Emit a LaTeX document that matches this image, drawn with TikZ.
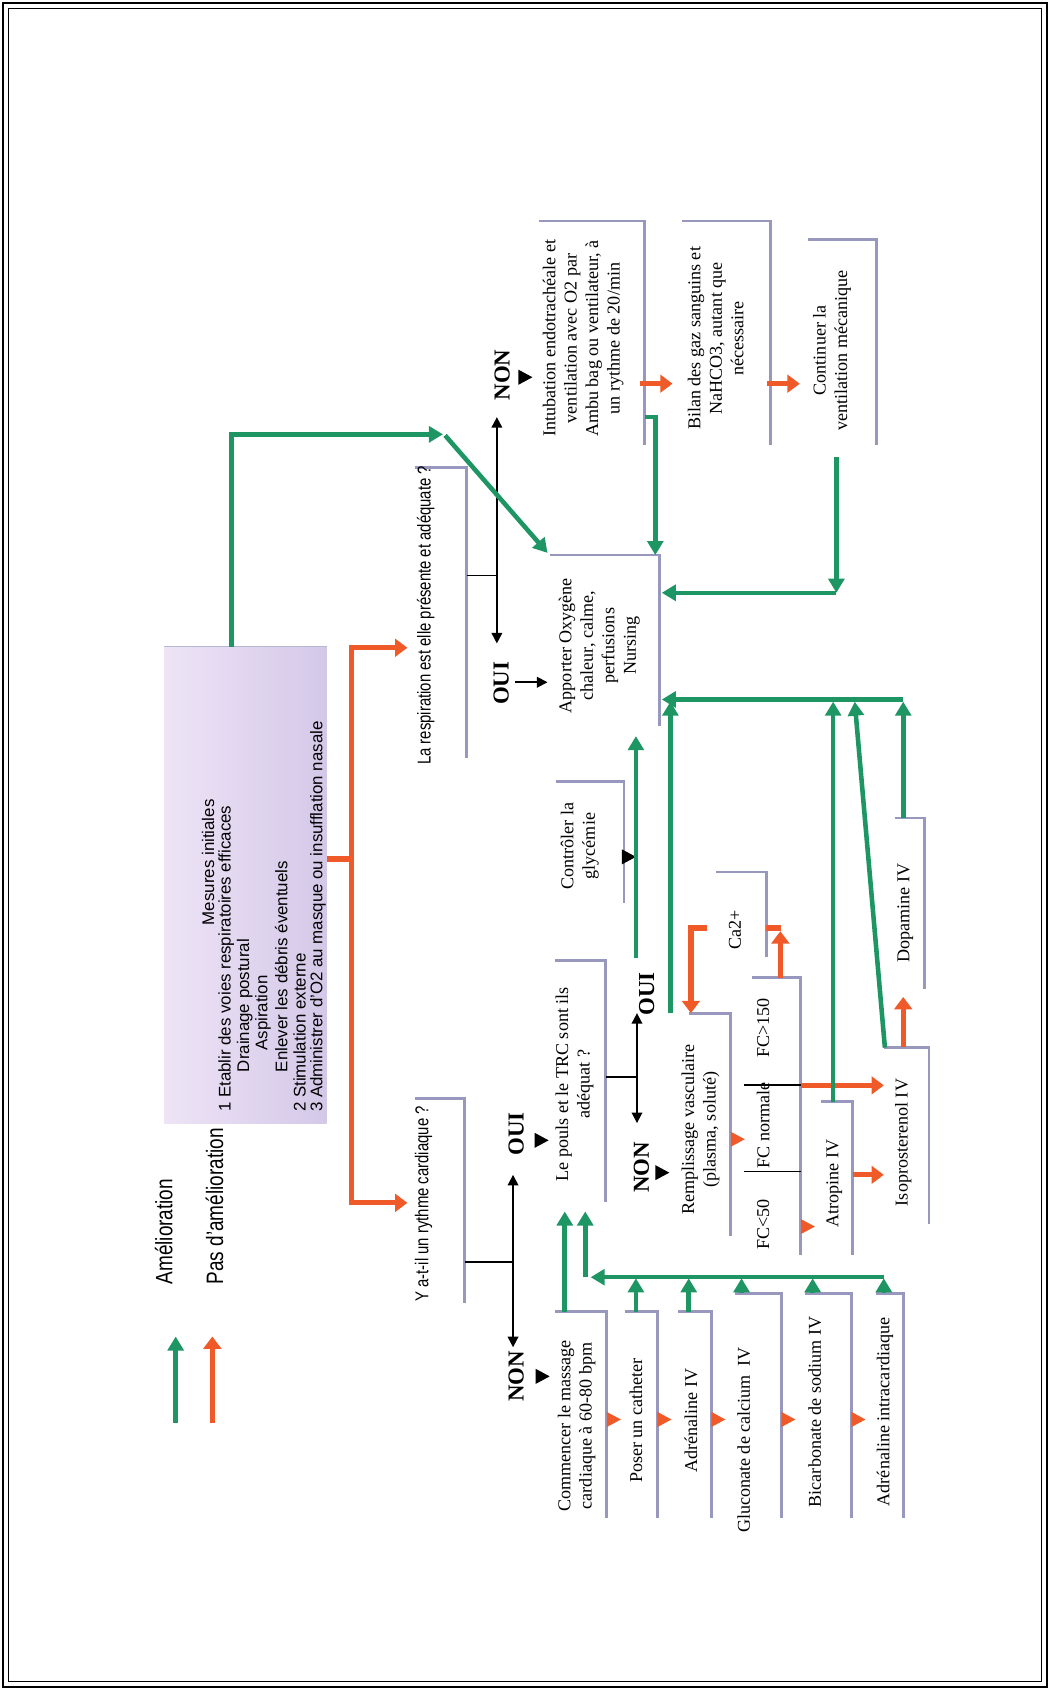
\documentclass[tikz,border=0pt]{standalone}
\usepackage{fontspec}
\setmainfont{Liberation Serif}
\newfontfamily\condfont[FakeStretch=0.8]{Liberation Sans}
\newfontfamily\boxfont{Liberation Sans}
\usetikzlibrary{arrows.meta}
\definecolor{brk}{RGB}{152,152,190}
\definecolor{vert}{RGB}{30,150,100}
\definecolor{orng}{RGB}{240,90,40}
\definecolor{lav1}{RGB}{238,228,246}
\definecolor{lav2}{RGB}{212,200,232}
\begin{document}
\begin{tikzpicture}[x=0.02156cm,y=-0.02156cm]
  \tikzset{
    box/.style={draw=brk,line width=1.6pt},
    txt/.style={rotate=90,inner sep=0pt,align=center,font=\fontsize{10.3}{12.2}\selectfont},
    ask/.style={rotate=90,inner sep=0pt,anchor=west,font=\condfont\fontsize{10.6}{11}\selectfont},
    measure/.style={ask,font=\boxfont\fontsize{9.6}{10}\selectfont},
    yesno/.style={rotate=90,inner sep=0pt,font=\bfseries\fontsize{13}{13}\selectfont},
    good/.style={draw=vert,line width=2.6pt,-{Triangle[length=8pt,width=9pt]}},
    bad/.style={draw=orng,line width=3pt,-{Triangle[length=7pt,width=10pt]}},
    choice/.style={draw=black,line width=1pt,-{Triangle[length=6pt,width=6pt]}}
  }
  \useasboundingbox (0,0) rectangle (974,1568);
  % frame
  \draw[line width=1.2pt] (3,3) rectangle (971,1565);
  \draw[line width=0.5pt] (8,8) rectangle (966,1560);

  % legend
  \draw[good] (163,1320) -- (163,1240);
  \draw[bad] (197,1320) -- (197,1240);
  \node[ask,font=\condfont\fontsize{13.5}{14}\selectfont] (leg1) at (152,1192) {Amélioration};
  \node[ask,font=\condfont\fontsize{13.5}{14}\selectfont] (leg2) at (199,1192) {Pas d’amélioration};

  % initial measures
  \shade[left color=lav1,right color=lav2] (152,600) rectangle (303,1042);
  \draw[brk!70,line width=0.8pt] (152,600) -- (303,600);
  \node[measure,anchor=center] (mes0) at (193,800) {Mesures initiales};
  \node[measure] (mes1) at (210,1032) {1 Etablir des voies respiratoires efficaces};
  \node[measure] (mes2) at (227,995) {Drainage postural};
  \node[measure] (mes3) at (244,975) {Aspiration};
  \node[measure] (mes4) at (261,995) {Enlever les débris éventuels};
  \node[measure] (mes5) at (278,1032) {2 Stimulation externe};
  \node[measure] (mes6) at (295,1032) {3 Administrer d’O2 au masque ou insufflation nasale};

  % brackets
  \foreach \xa/\ya/\xb/\yb in {385/434/433/703, 385/1019/431/1209, 500/205/598/413,
      633/205/715/413, 750/222/813/413, 510/515/612/674, 516/725/579/838,
      515/891/562/1115, 639/940/678/1147, 664/809/711/888, 698/907/743/1164,
      762/1022/791/1164, 820/972/862/1136, 830/759/858/918, 515/1217/563/1408,
      580/1217/610/1408, 629/1217/660/1408, 682/1200/725/1408, 747/1200/790/1408,
      813/1200/838/1408}
    \draw[box] (\xa,\ya) -- (\xb,\ya) -- (\xb,\yb);

  % questions
  \node[ask] (resp) at (395,710) {La respiration est elle présente et adéquate ?};
  \node[ask] (ryth) at (393,1208) {Y a-t-il un rythme cardiaque ?};

  % actions
  \node[txt] (intub) at (541,314) {Intubation endotrachéale et\\ventilation avec O2 par\\Ambu bag ou ventilateur, à\\un rythme de 20/min};
  \node[txt] (bilan) at (664,314) {Bilan des gaz sanguins et\\NaHCO3, autant que\\nécessaire};
  \node[txt] (cont) at (772,325) {Continuer la\\ventilation mécanique};
  \node[txt] (appo) at (556,599) {Apporter Oxygène\\chaleur, calme,\\perfusions\\Nursing};
  \node[txt] (ctrl) at (538,785) {Contrôler la\\glycémie};
  \node[txt] (pouls) at (533,1006) {Le pouls et le TRC sont ils\\adéquat ?};
  \node[txt] (rempl) at (650,1048) {Remplissage vasculaire\\(plasma, soluté)};
  \node[txt] (ca) at (682,863) {Ca2+};
  \node[txt] (fc150) at (708,954) {FC>150};
  \node[txt] (fcnorm) at (708,1044) {FC normale};
  \node[txt] (fc50) at (708,1136) {FC<50};
  \node[txt] (atro) at (774,1098) {Atropine IV};
  \node[txt] (iso) at (838,1060) {Isoprosterenol IV};
  \node[txt] (dopa) at (840,847) {Dopamine IV};
  \node[txt] (comm) at (535,1323) {Commencer le massage\\cardiaque à 60-80 bpm};
  \node[txt] (poser) at (590,1318) {Poser un catheter};
  \node[txt] (adre) at (641,1318) {Adrénaline IV};
  \node[txt] (gluc) at (690,1336) {Gluconate de calcium~~IV};
  \node[txt] (bica) at (756,1310) {Bicarbonate de sodium IV};
  \node[txt] (intra) at (821,1310) {Adrénaline intracardiaque};

  % oui / non
  \node[yesno] (non1) at (466,348) {NON};
  \node[yesno] (oui1) at (465,634) {OUI};
  \node[yesno] (oui2) at (479,1052) {OUI};
  \node[yesno] (non2) at (479,1277) {NON};
  \node[yesno] (oui3) at (600,922) {OUI};
  \node[yesno] (non3) at (595,1083) {NON};
  \foreach \x/\y in {487/350, 583/795, 502/1058, 503/1277, 614/1088}
    \fill (\x-6,\y-7) -- (\x+7,\y) -- (\x-6,\y+7) -- cycle;

  % black choices
  \draw[line width=1pt] (433,534) -- (461,534);
  \draw[choice] (461,534) -- (461,387);
  \draw[choice] (461,534) -- (461,597);
  \draw[choice] (478,633) -- (508,633);
  \draw[line width=1pt] (431,1171) -- (476,1171);
  \draw[choice] (476,1171) -- (476,1090);
  \draw[choice] (476,1171) -- (476,1250);
  \draw[line width=1pt] (562,999) -- (591,999);
  \draw[choice] (591,999) -- (591,940);
  \draw[choice] (591,999) -- (591,1042);
  \draw[line width=1pt] (690,1007) -- (743,1007);
  \draw[line width=1pt] (690,1087) -- (743,1087);

  % no improvement
  \draw[orng,line width=3pt] (303,797) -- (326,797);
  \draw[bad] (326,797) |- (378,601);
  \draw[bad] (326,797) |- (378,1116);
  \draw[bad] (594,356) -- (624,356);
  \draw[bad] (712,356) -- (742,356);
  \draw[orng,line width=3pt] (711,861) -- (725,861);
  \draw[bad] (724,907) -- (724,864);
  \draw[bad] (656,861) -| (641,940);
  \draw[bad] (743,1007) -- (820,1007);
  \draw[bad] (791,1090) -- (820,1090);
  \draw[bad] (838,971) -- (838,925);
  \foreach \x/\y in {563/1317, 610/1317, 660/1317, 725/1317, 790/1317, 678/1057, 743/1138}
    \fill[orng] (\x,\y-7) -- (\x+13,\y) -- (\x,\y+7) -- cycle;

  % improvement
  \draw[good] (215,600) |- (411,403);
  \draw[good] (413,404) -- (508,513);
  \draw[good] (598,387) -| (608,515);
  \draw[good] (776,424) -- (776,550);
  \draw[good] (776,550) -- (614,550);
  \draw[good] (838,649) -- (614,649);
  \draw[good] (622,940) -- (622,651);
  \draw[good] (773,1022) -- (773,651);
  \draw[good] (821,972) -- (793,651);
  \draw[good] (838,759) -- (838,651);
  \draw[good] (590,889) -- (590,683);
  \draw[good] (524,1217) -- (524,1124);
  \draw[good] (820,1185) -- (548,1185);
  \draw[good] (543,1185) -- (543,1124);
  \foreach \x/\y in {590/1217, 639/1217, 688/1200, 754/1200, 820/1200}
    \draw[good] (\x,\y) -- (\x,1186);
\end{tikzpicture}
\end{document}
